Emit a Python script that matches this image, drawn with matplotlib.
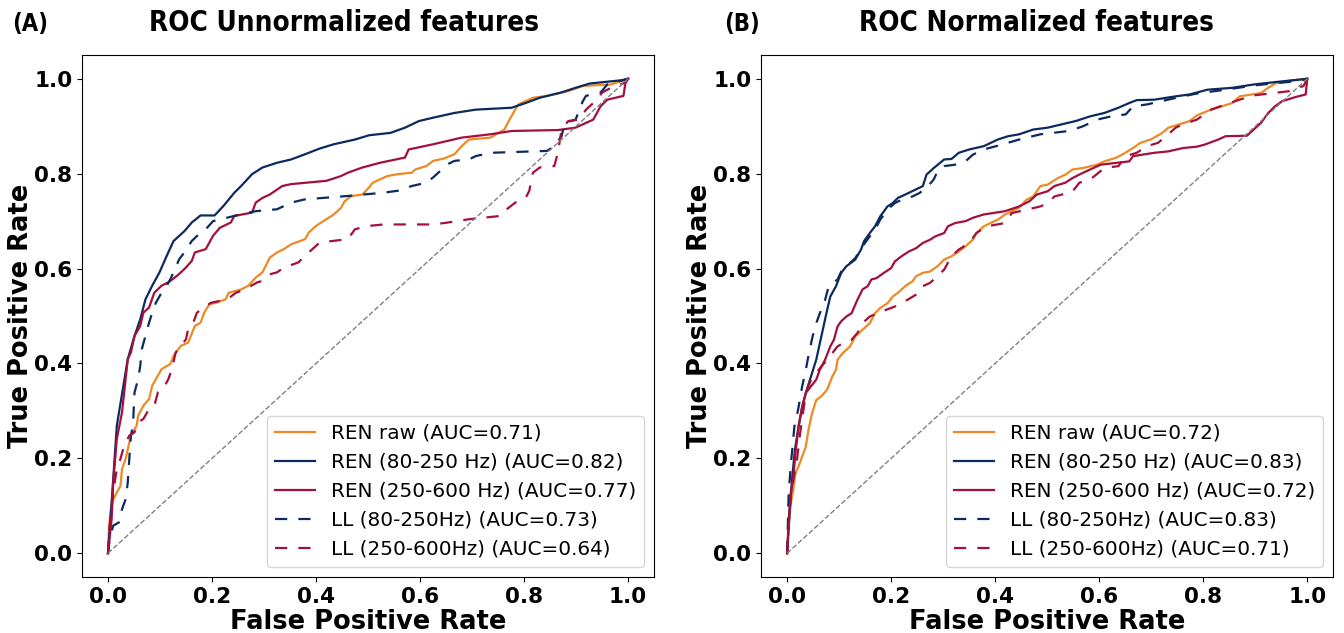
import matplotlib
matplotlib.use("Agg")
import matplotlib.pyplot as plt

# ---------------------------------------------------------------------------
# Data
# ---------------------------------------------------------------------------
CHANCE = [0.0, 1.0]

# (A) unnormalized features
A_RAW_FPR = [0, 0.002, 0.007, 0.017, 0.024, 0.027, 0.034, 0.044, 0.055, 0.058, 0.068, 0.079,
             0.085, 0.092, 0.103, 0.120, 0.126, 0.140, 0.154, 0.167, 0.178, 0.185, 0.195,
             0.208, 0.226, 0.232, 0.256, 0.270, 0.284, 0.297, 0.311, 0.325, 0.338, 0.352,
             0.379, 0.386, 0.400, 0.414, 0.434, 0.448, 0.455, 0.468, 0.489, 0.502, 0.509,
             0.523, 0.537, 0.557, 0.584, 0.591, 0.612, 0.625, 0.646, 0.666, 0.680, 0.694,
             0.735, 0.762, 0.772, 0.783, 0.789, 0.817, 0.844, 0.885, 0.913, 0.967, 1.0]
A_RAW_TPR = [0, 0.058, 0.107, 0.128, 0.142, 0.178, 0.199, 0.248, 0.269, 0.290, 0.311, 0.325,
             0.353, 0.367, 0.388, 0.399, 0.416, 0.437, 0.444, 0.479, 0.486, 0.507, 0.525,
             0.528, 0.535, 0.549, 0.556, 0.564, 0.581, 0.592, 0.623, 0.634, 0.641, 0.651,
             0.662, 0.676, 0.690, 0.700, 0.714, 0.728, 0.742, 0.753, 0.756, 0.771, 0.781,
             0.788, 0.795, 0.799, 0.802, 0.809, 0.816, 0.827, 0.832, 0.841, 0.858, 0.872,
             0.876, 0.893, 0.914, 0.935, 0.946, 0.960, 0.964, 0.974, 0.985, 0.988, 1.0]

A_REN80_FPR = [0, 0.007, 0.017, 0.038, 0.051, 0.062, 0.072, 0.085, 0.099, 0.113, 0.126, 0.147,
               0.161, 0.178, 0.205, 0.222, 0.243, 0.256, 0.277, 0.297, 0.325, 0.352, 0.379,
               0.407, 0.434, 0.475, 0.502, 0.543, 0.571, 0.598, 0.625, 0.666, 0.707, 0.776,
               0.803, 0.830, 0.871, 0.899, 0.926, 0.988, 1.0]
A_REN80_TPR = [0, 0.107, 0.269, 0.409, 0.458, 0.493, 0.535, 0.564, 0.592, 0.627, 0.658, 0.679,
               0.697, 0.712, 0.712, 0.732, 0.760, 0.774, 0.799, 0.813, 0.823, 0.830, 0.841,
               0.853, 0.862, 0.872, 0.881, 0.886, 0.897, 0.911, 0.918, 0.928, 0.935, 0.939,
               0.949, 0.960, 0.971, 0.981, 0.990, 0.997, 1.0]

A_REN250_FPR = [0, 0.007, 0.010, 0.017, 0.027, 0.038, 0.044, 0.051, 0.062, 0.068, 0.079, 0.089,
                0.103, 0.116, 0.133, 0.147, 0.161, 0.167, 0.188, 0.202, 0.215, 0.236, 0.243,
                0.277, 0.284, 0.297, 0.311, 0.335, 0.352, 0.420, 0.448, 0.461, 0.489, 0.523,
                0.571, 0.578, 0.625, 0.680, 0.735, 0.776, 0.865, 0.899, 0.933, 0.947, 0.960,
                0.991, 0.995, 1.0]
A_REN250_TPR = [0, 0.072, 0.149, 0.241, 0.297, 0.409, 0.423, 0.458, 0.479, 0.507, 0.518, 0.549,
                0.564, 0.571, 0.585, 0.599, 0.616, 0.634, 0.641, 0.669, 0.686, 0.697, 0.711,
                0.718, 0.739, 0.749, 0.756, 0.774, 0.778, 0.785, 0.795, 0.802, 0.813, 0.823,
                0.834, 0.851, 0.862, 0.876, 0.883, 0.890, 0.892, 0.897, 0.914, 0.942, 0.956,
                0.964, 0.992, 1.0]

A_LL80_FPR = [0, 0.003, 0.010, 0.021, 0.027, 0.034, 0.038, 0.041, 0.044, 0.048, 0.051, 0.058,
              0.062, 0.065, 0.072, 0.079, 0.085, 0.092, 0.103, 0.109, 0.120, 0.126, 0.137,
              0.147, 0.161, 0.178, 0.188, 0.202, 0.243, 0.284, 0.325, 0.352, 0.379, 0.461,
              0.530, 0.557, 0.584, 0.612, 0.625, 0.639, 0.653, 0.666, 0.694, 0.707, 0.735,
              0.844, 0.858, 0.872, 0.878, 0.899, 0.913, 0.919, 0.947, 0.960, 1.0]
A_LL80_TPR = [0, 0.030, 0.058, 0.065, 0.093, 0.114, 0.149, 0.199, 0.248, 0.269, 0.339, 0.367,
              0.395, 0.430, 0.458, 0.486, 0.507, 0.528, 0.549, 0.556, 0.578, 0.592, 0.620,
              0.634, 0.658, 0.676, 0.683, 0.700, 0.711, 0.721, 0.725, 0.739, 0.746, 0.753,
              0.760, 0.764, 0.774, 0.781, 0.792, 0.806, 0.820, 0.827, 0.830, 0.837, 0.844,
              0.848, 0.858, 0.879, 0.907, 0.914, 0.953, 0.964, 0.971, 0.988, 1.0]

A_LL250_FPR = [0, 0.002, 0.007, 0.010, 0.017, 0.024, 0.031, 0.041, 0.051, 0.058, 0.068, 0.079,
               0.089, 0.096, 0.106, 0.116, 0.123, 0.130, 0.140, 0.150, 0.154, 0.164, 0.171,
               0.185, 0.198, 0.229, 0.246, 0.263, 0.287, 0.297, 0.311, 0.325, 0.338, 0.366,
               0.379, 0.393, 0.407, 0.461, 0.475, 0.502, 0.530, 0.625, 0.653, 0.694, 0.755,
               0.762, 0.783, 0.803, 0.810, 0.817, 0.830, 0.858, 0.865, 0.872, 0.885, 0.906,
               0.919, 0.940, 0.950, 0.967, 0.995, 1.0]
A_LL250_TPR = [0, 0.044, 0.093, 0.128, 0.178, 0.199, 0.227, 0.248, 0.255, 0.276, 0.283, 0.304,
               0.311, 0.339, 0.346, 0.367, 0.388, 0.423, 0.437, 0.451, 0.472, 0.486, 0.507,
               0.518, 0.528, 0.535, 0.549, 0.556, 0.571, 0.574, 0.588, 0.592, 0.602, 0.613,
               0.627, 0.641, 0.655, 0.662, 0.683, 0.690, 0.693, 0.693, 0.697, 0.704, 0.711,
               0.721, 0.739, 0.749, 0.764, 0.802, 0.813, 0.816, 0.844, 0.893, 0.911, 0.914,
               0.935, 0.956, 0.971, 0.981, 0.992, 1.0]

# (B) normalized features
B_RAW_FPR = [0, 0.003, 0.007, 0.012, 0.016, 0.022, 0.029, 0.036, 0.041, 0.048, 0.056, 0.066,
             0.077, 0.087, 0.094, 0.097, 0.107, 0.121, 0.131, 0.145, 0.159, 0.169, 0.179,
             0.193, 0.203, 0.213, 0.227, 0.241, 0.248, 0.261, 0.275, 0.289, 0.302, 0.316,
             0.330, 0.343, 0.357, 0.364, 0.378, 0.391, 0.405, 0.419, 0.432, 0.446, 0.460,
             0.473, 0.487, 0.501, 0.521, 0.535, 0.549, 0.569, 0.596, 0.610, 0.631, 0.644,
             0.665, 0.679, 0.699, 0.720, 0.733, 0.754, 0.774, 0.788, 0.815, 0.836, 0.856,
             0.870, 0.911, 0.925, 0.938, 0.966, 1.0]
B_RAW_TPR = [0, 0.056, 0.105, 0.134, 0.169, 0.183, 0.204, 0.225, 0.260, 0.295, 0.323, 0.331,
             0.345, 0.373, 0.387, 0.408, 0.422, 0.436, 0.457, 0.471, 0.485, 0.506, 0.517,
             0.527, 0.541, 0.549, 0.563, 0.573, 0.584, 0.591, 0.594, 0.605, 0.619, 0.626,
             0.636, 0.647, 0.661, 0.675, 0.689, 0.696, 0.703, 0.714, 0.721, 0.728, 0.745,
             0.752, 0.774, 0.777, 0.791, 0.798, 0.809, 0.812, 0.819, 0.826, 0.833, 0.840,
             0.854, 0.865, 0.872, 0.885, 0.897, 0.904, 0.911, 0.923, 0.935, 0.942, 0.949,
             0.963, 0.970, 0.981, 0.990, 0.996, 1.0]

B_REN80_FPR = [0, 0.005, 0.010, 0.015, 0.022, 0.029, 0.036, 0.046, 0.056, 0.063, 0.070, 0.077,
               0.083, 0.094, 0.104, 0.114, 0.131, 0.142, 0.148, 0.159, 0.169, 0.179, 0.193,
               0.203, 0.213, 0.227, 0.248, 0.261, 0.268, 0.282, 0.302, 0.316, 0.330, 0.350,
               0.378, 0.405, 0.425, 0.446, 0.473, 0.501, 0.528, 0.555, 0.583, 0.610, 0.637,
               0.658, 0.672, 0.706, 0.747, 0.774, 0.808, 0.856, 0.897, 0.938, 1.0]
B_REN80_TPR = [0, 0.091, 0.162, 0.218, 0.267, 0.309, 0.338, 0.373, 0.408, 0.443, 0.478, 0.513,
               0.541, 0.563, 0.591, 0.605, 0.619, 0.640, 0.658, 0.675, 0.689, 0.710, 0.731,
               0.738, 0.749, 0.756, 0.767, 0.774, 0.798, 0.812, 0.830, 0.831, 0.844, 0.851,
               0.858, 0.872, 0.879, 0.883, 0.893, 0.897, 0.904, 0.911, 0.921, 0.928, 0.939,
               0.949, 0.955, 0.956, 0.963, 0.967, 0.977, 0.981, 0.988, 0.993, 1.0]

B_REN250_FPR = [0, 0.003, 0.007, 0.012, 0.016, 0.022, 0.029, 0.036, 0.046, 0.056, 0.063, 0.073,
                0.083, 0.090, 0.097, 0.104, 0.114, 0.124, 0.135, 0.145, 0.155, 0.162, 0.172,
                0.186, 0.200, 0.207, 0.220, 0.234, 0.248, 0.261, 0.275, 0.285, 0.302, 0.309,
                0.323, 0.343, 0.357, 0.378, 0.419, 0.446, 0.466, 0.480, 0.501, 0.514, 0.535,
                0.549, 0.569, 0.583, 0.603, 0.658, 0.665, 0.706, 0.733, 0.761, 0.788, 0.802,
                0.829, 0.843, 0.884, 0.897, 0.911, 0.925, 0.938, 0.952, 0.979, 0.997, 1.0, 1.0]
B_REN250_TPR = [0, 0.070, 0.127, 0.162, 0.211, 0.267, 0.309, 0.338, 0.352, 0.366, 0.387, 0.408,
                0.436, 0.450, 0.478, 0.489, 0.499, 0.506, 0.534, 0.556, 0.563, 0.577, 0.580,
                0.591, 0.601, 0.615, 0.626, 0.636, 0.643, 0.654, 0.661, 0.668, 0.675, 0.689,
                0.696, 0.700, 0.707, 0.714, 0.721, 0.731, 0.742, 0.756, 0.763, 0.774, 0.781,
                0.791, 0.802, 0.809, 0.819, 0.826, 0.837, 0.844, 0.847, 0.854, 0.857, 0.861,
                0.872, 0.879, 0.880, 0.893, 0.907, 0.928, 0.942, 0.953, 0.962, 0.967, 0.999, 1.0]

B_LL80_FPR = [0, 0.003, 0.008, 0.014, 0.021, 0.029, 0.036, 0.042, 0.049, 0.056, 0.063, 0.073,
              0.080, 0.097, 0.107, 0.121, 0.131, 0.145, 0.159, 0.169, 0.179, 0.193, 0.207,
              0.220, 0.241, 0.254, 0.268, 0.282, 0.289, 0.302, 0.323, 0.343, 0.357, 0.378,
              0.412, 0.446, 0.487, 0.542, 0.569, 0.596, 0.624, 0.651, 0.665, 0.692, 0.720,
              0.761, 0.788, 0.843, 0.897, 0.979, 1.0]
B_LL80_TPR = [0, 0.127, 0.197, 0.267, 0.302, 0.352, 0.387, 0.422, 0.457, 0.485, 0.506, 0.534,
              0.563, 0.577, 0.601, 0.612, 0.622, 0.647, 0.668, 0.682, 0.703, 0.724, 0.738,
              0.745, 0.752, 0.759, 0.770, 0.788, 0.805, 0.816, 0.819, 0.826, 0.840, 0.851,
              0.861, 0.872, 0.883, 0.890, 0.900, 0.914, 0.921, 0.925, 0.942, 0.946, 0.953,
              0.963, 0.969, 0.977, 0.986, 0.995, 1.0]

B_LL250_FPR = [0, 0.003, 0.007, 0.012, 0.019, 0.025, 0.036, 0.046, 0.056, 0.066, 0.077, 0.087,
               0.097, 0.114, 0.124, 0.135, 0.145, 0.159, 0.183, 0.207, 0.231, 0.254, 0.261,
               0.275, 0.289, 0.302, 0.316, 0.330, 0.350, 0.364, 0.384, 0.419, 0.432, 0.460,
               0.487, 0.501, 0.514, 0.528, 0.549, 0.562, 0.583, 0.610, 0.637, 0.651, 0.672,
               0.692, 0.713, 0.733, 0.747, 0.761, 0.788, 0.815, 0.843, 0.870, 0.897, 0.966,
               0.993, 1.0]
B_LL250_TPR = [0, 0.063, 0.120, 0.155, 0.197, 0.253, 0.338, 0.366, 0.380, 0.394, 0.408, 0.422,
               0.436, 0.447, 0.450, 0.464, 0.485, 0.499, 0.510, 0.520, 0.534, 0.549, 0.563,
               0.570, 0.584, 0.598, 0.626, 0.640, 0.654, 0.675, 0.689, 0.696, 0.717, 0.724,
               0.731, 0.738, 0.752, 0.756, 0.763, 0.781, 0.788, 0.812, 0.816, 0.837, 0.844,
               0.858, 0.865, 0.883, 0.897, 0.904, 0.914, 0.935, 0.946, 0.956, 0.965, 0.974,
               0.985, 1.0]

A_LABELS = ["REN raw (AUC=0.71)", "REN (80-250 Hz) (AUC=0.82)", "REN (250-600 Hz) (AUC=0.77)",
            "LL (80-250Hz) (AUC=0.73)", "LL (250-600Hz) (AUC=0.64)"]
B_LABELS = ["REN raw (AUC=0.72)", "REN (80-250 Hz) (AUC=0.83)", "REN (250-600 Hz) (AUC=0.72)",
            "LL (80-250Hz) (AUC=0.83)", "LL (250-600Hz) (AUC=0.71)"]

ORANGE = "#EE8A25"
NAVY = "#0C2A5E"
CRIMSON = "#A50F3C"

# titles and panel letters use the condensed bold face, as in the reference
TITLE_FONT = dict(family="DejaVu Sans", size=20, weight="bold", stretch="condensed")
PANEL_FONT = dict(family="DejaVu Sans", size=17, weight="bold", stretch="condensed")


def draw_panel(ax, curves, labels, title, title_x):
    styles = [(ORANGE, "-"), (NAVY, "-"), (CRIMSON, "-"), (NAVY, "--"), (CRIMSON, "--")]
    for (fpr, tpr), lab, (col, ls) in zip(curves, labels, styles):
        line, = ax.plot(fpr, tpr, color=col, linewidth=1.6, label=lab)
        if ls == "--":
            line.set_dashes((5.5, 5))
    ax.plot(CHANCE, CHANCE, linestyle="--", color="gray", linewidth=1.0)
    ax.set_title(title, fontdict=TITLE_FONT, pad=17, x=title_x)
    ax.set_xlabel("False Positive Rate", fontsize=18.5, fontweight="bold", labelpad=2)
    ax.set_ylabel("True Positive Rate", fontsize=18.5, fontweight="bold", labelpad=0)
    ax.tick_params(axis="both", labelsize=15.5)
    for t in ax.get_xticklabels() + ax.get_yticklabels():
        t.set_fontweight("bold")
    ax.legend(loc="lower right", fontsize=14.4)


fig, (ax1, ax2) = plt.subplots(1, 2, figsize=(13.44, 6.33), dpi=100)
fig.subplots_adjust(left=0.061, right=0.992, bottom=0.0885, top=0.913, wspace=0.187)

draw_panel(ax1,
           [(A_RAW_FPR, A_RAW_TPR), (A_REN80_FPR, A_REN80_TPR), (A_REN250_FPR, A_REN250_TPR),
            (A_LL80_FPR, A_LL80_TPR), (A_LL250_FPR, A_LL250_TPR)],
           A_LABELS, "ROC Unnormalized features", 0.458)
draw_panel(ax2,
           [(B_RAW_FPR, B_RAW_TPR), (B_REN80_FPR, B_REN80_TPR), (B_REN250_FPR, B_REN250_TPR),
            (B_LL80_FPR, B_LL80_TPR), (B_LL250_FPR, B_LL250_TPR)],
           B_LABELS, "ROC Normalized features", 0.481)

fig.text(0.009, 0.962, "(A)", fontdict=PANEL_FONT, va="center")
fig.text(0.539, 0.962, "(B)", fontdict=PANEL_FONT, va="center")

fig.savefig("out.png", dpi=100)
